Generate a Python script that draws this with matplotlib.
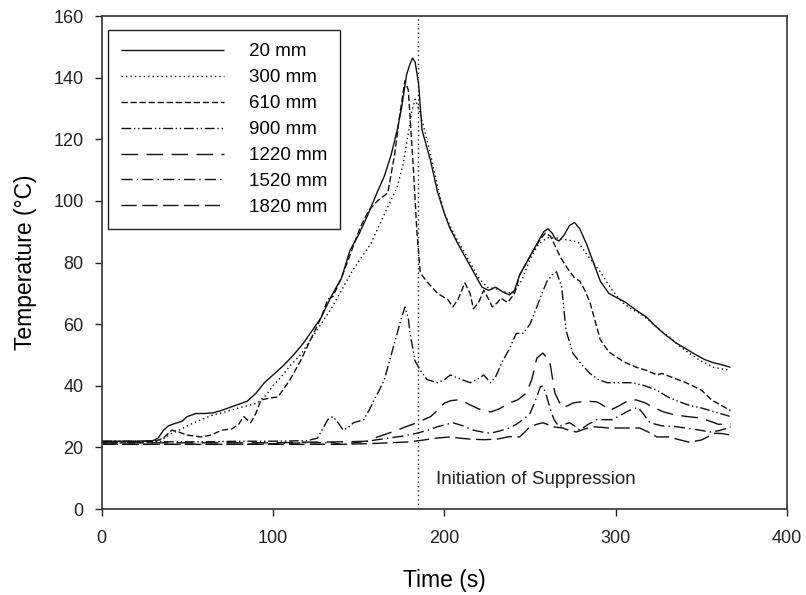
import matplotlib
matplotlib.use("Agg")
import matplotlib.pyplot as plt

plt.rcParams['font.family'] = ['Liberation Sans', 'DejaVu Sans']

# time (s) / temperature (C), one pair per thermocouple height
t20 = [0, 10, 20, 30, 33, 36, 39, 43, 47, 50, 55, 60, 65, 70, 75, 80, 85, 90, 95, 101,
       106, 112, 118, 123, 128, 134, 140, 145, 150, 155, 161, 165, 169, 172.5, 175, 178,
       180, 181.5, 183, 185, 187, 192, 196, 200, 203, 208, 213, 218, 222, 226, 230, 234,
       238, 241, 244, 248, 252, 256, 258, 260.5, 263, 265, 267, 270, 273, 276, 279, 283,
       287, 291, 296, 301, 306, 312, 318, 322, 328, 335, 341, 347, 352, 357, 362, 367]
T20 = [22, 22, 22, 22.2, 23, 25.5, 27, 27.8, 28.5, 30, 31, 31, 31.2, 32, 33, 34, 35, 37.5,
       41, 44, 46.5, 50, 54, 58, 62, 69, 75, 84, 89, 95, 103, 108, 115, 123, 130, 141,
       144.5, 146.4, 145, 138, 123, 113, 103, 96, 91.5, 86, 81, 76, 72, 71, 72, 70.5,
       69.5, 71, 76, 80, 84, 88, 90, 91, 89.5, 87.5, 87, 89, 92, 93, 91, 86, 80, 74, 70,
       68.5, 67, 64.5, 62.3, 60, 57, 54, 52, 50, 48.5, 47.5, 46.8, 46]

t300 = [0, 10, 20, 30, 35, 38, 41, 45, 50, 58, 65, 72, 81, 87, 91, 96, 100, 105, 110, 116,
        122, 128, 134, 140, 146, 152, 157, 162, 167, 172.5, 176, 179, 181, 183, 185, 188,
        192, 196, 200, 205, 210, 215, 220, 225, 230, 235, 240, 245, 250, 255, 260, 265,
        270, 278, 284, 291, 298, 304, 310, 314, 320, 326, 331, 337, 343, 350, 357, 362, 367]
T300 = [22, 22, 22, 22, 22.5, 23.5, 24.6, 25.5, 27, 29, 30.5, 31.5, 33, 33.8, 34.4, 37, 40,
        43, 46.5, 50, 55, 60, 65, 71, 77, 82, 86, 92, 98, 104.5, 112, 122, 129, 133, 130,
        124, 115, 105, 96, 90, 85, 80, 75, 72, 71.5, 70.5, 70, 74, 81, 86, 88, 88, 87.5,
        86.7, 82, 77, 71, 67, 64.6, 63.6, 61, 58, 56, 53, 50.5, 48, 46, 45.5, 45]

t610 = [0, 10, 20, 30, 36, 41, 45, 50, 58, 64, 70, 76, 80, 83, 87, 90, 93, 98, 103, 110,
        116, 122, 128, 132, 135, 140, 146, 151, 156, 161, 167, 171, 174, 177, 179, 182,
        184, 186, 190, 196, 202, 205, 208, 212, 215, 217, 220, 223, 226, 228, 231, 233,
        237, 241, 244, 248, 252, 256, 259, 262, 265, 268, 272, 276, 279, 282, 285, 288,
        291, 296, 300, 305, 312, 318, 324, 327, 334, 341, 350, 356, 362, 367]
T610 = [21.5, 21.5, 21.5, 21.7, 23, 25.6, 25, 24, 23.4, 24, 25.6, 26, 27.5, 30, 28, 31,
        35.4, 36, 36.4, 42, 48, 55, 62, 68, 69, 75, 84, 91.5, 97, 100, 102.6, 115, 128,
        139, 136, 110, 90, 76.6, 73.7, 70, 68, 65.6, 68, 73.4, 70, 65, 67, 71, 68, 65.6,
        67, 68.5, 67, 70, 76, 80, 84, 87.5, 89.6, 88.5, 85, 81.5, 78, 75, 74, 71, 67, 61,
        55, 51, 49.5, 47.7, 46, 45, 43.5, 44, 42.5, 41, 38.6, 35.4, 33.5, 32]

t900 = [0, 20, 40, 60, 80, 100, 120, 126, 132, 135, 138, 141, 144, 147, 153, 157, 159,
        162, 165, 169, 172.5, 175, 177, 179, 180, 183, 186, 190, 196, 200, 203.5, 208,
        215, 219, 223, 227, 230, 234, 238, 242, 246, 250, 254, 257, 260, 263, 265.5,
        268.5, 271, 275, 280, 285, 290, 295, 302, 310, 317, 324, 330, 337, 344, 350, 358, 367]
T900 = [22, 22, 21.8, 21.8, 22, 22, 22.2, 23, 29, 30, 28, 25.6, 26.5, 28, 29, 33, 35.4,
        38.5, 42, 50, 57, 62, 65.6, 62, 57, 48, 45, 42, 41, 42, 43.5, 42.5, 41, 42, 43.5,
        41, 43, 48, 52, 57, 57, 60, 65.6, 70, 74, 76, 77, 72, 58, 50.6, 47, 44, 42, 41,
        41, 41, 40, 38.6, 36.5, 34.8, 33.5, 32.8, 31.5, 30]

t1220 = [0, 20, 40, 60, 80, 100, 120, 140, 155, 161, 167, 172.5, 178, 184, 188, 192, 196,
         200, 204, 207.5, 211, 215, 220, 227, 232, 238, 243, 248, 251, 254, 257.5, 261.5,
         264.5, 268.5, 272, 275, 282, 289, 293, 296.5, 302, 308, 312, 317, 322, 328, 335,
         342, 350, 355, 360, 367]
T1220 = [21.5, 21.5, 21.5, 21.5, 21.5, 21.5, 21.7, 21.8, 22, 23.4, 24.5, 25.6, 26.8, 28,
         29, 30, 32, 34.4, 35.2, 35.4, 35, 33.8, 32.5, 31.5, 32.5, 34.4, 35.5, 37.7, 42,
         49, 50.6, 48, 37.7, 33, 33.5, 34.4, 35, 34.8, 33.5, 32, 33.5, 35.4, 35.4, 34.5,
         33, 31.5, 30.5, 30, 29.5, 28.5, 27.5, 27.6]

t1520 = [0, 20, 40, 60, 80, 100, 120, 135, 141, 147, 155, 167, 175, 184, 190, 196, 200,
         205, 211, 217, 222, 227, 232, 238, 242, 246, 250, 253, 256, 257.5, 259.5, 261.6,
         264, 267, 270, 273, 276, 279, 284, 289, 294, 298, 303, 308, 313, 316, 320, 327,
         334, 341, 348, 355, 361, 367]
T1520 = [21, 21, 21, 21, 21, 21.2, 21.5, 21.5, 20.8, 21.5, 22, 23, 23.6, 24.6, 25.5, 26.7,
         27.3, 28, 27, 25.6, 25, 24.6, 25.3, 26.3, 27.5, 29, 31, 35, 39.6, 40, 37, 33, 29,
         26.7, 27.5, 28, 27, 25.6, 27.5, 29, 29, 29, 30.5, 32, 33, 31, 28, 27, 26.8, 26.3,
         25.7, 25, 25.5, 26.7]

t1820 = [0, 20, 40, 60, 80, 100, 120, 140, 160, 180, 188, 195, 203.5, 209, 215, 223, 231,
         238, 244, 247, 250, 254, 257.5, 260, 263, 269, 273, 277, 282, 287, 292, 296, 303,
         310, 314, 319, 324, 331, 337, 343, 350, 354, 358, 362, 367]
T1820 = [21, 21, 21, 21, 21, 21, 21, 21, 21.3, 21.8, 22.4, 23, 23.4, 23, 22.7, 22.5, 22.7,
         23.5, 23.4, 25, 26.7, 27.5, 28, 27.5, 26.7, 26.3, 25.5, 25, 26, 26.7, 26.5, 26.3,
         26.3, 26.3, 26.3, 25, 23.4, 23.4, 22.5, 21.7, 22.4, 23.5, 24.6, 24.5, 24]

labels = ['20 mm', '300 mm', '610 mm', '900 mm', '1220 mm', '1520 mm', '1820 mm']
suppression_time = 184.5

series = [(t20, T20), (t300, T300), (t610, T610), (t900, T900),
          (t1220, T1220), (t1520, T1520), (t1820, T1820)]
styles = [
    (0, ()),
    (0, (1, 2.2)),
    (0, (4.5, 2)),
    (0, (7, 2, 1, 2, 1, 2)),
    (0, (12, 6)),
    (0, (8, 3, 1, 3)),
    (0, (11, 4)),
]

fig = plt.figure(figsize=(8.06, 5.95), dpi=100)
ax = fig.add_axes([0.126, 0.1445, 0.8505, 0.8285])

for (t, T), ls, lab in zip(series, styles, labels):
    ax.plot(t, T, color='#111111', lw=1.0, linestyle=ls, label=lab)

ax.axvline(suppression_time, color='#222222', lw=1.0, linestyle=(0, (1, 2.2)))
ax.text(195, 9.7, 'Initiation of Suppression', fontsize=13.5, va='center', ha='left',
        color='#222222')

ax.set_xlim(0, 400)
ax.set_ylim(0, 160)
ax.set_xticks(range(0, 401, 100))
ax.set_yticks(range(0, 161, 20))
ax.tick_params(direction='out', length=5, width=1, labelsize=13, colors='#222222', pad=8)
ax.tick_params(axis='x', pad=10)
for sp in ax.spines.values():
    sp.set_color('#333333')
    sp.set_linewidth(1.2)

ax.set_xlabel('Time (s)', fontsize=16.5, labelpad=16)
ax.set_ylabel('Temperature (\u00b0C)', fontsize=16.5, labelpad=12)

leg = ax.legend(loc='upper left', bbox_to_anchor=(0.0095, 0.9716), borderaxespad=0,
                fontsize=13.5, handlelength=5.5, handletextpad=1.3, labelspacing=0.47,
                fancybox=False, framealpha=1, edgecolor='#222222',
                borderpad=0.7)
leg.get_frame().set_linewidth(1.0)

fig.savefig('out.png', dpi=100)
